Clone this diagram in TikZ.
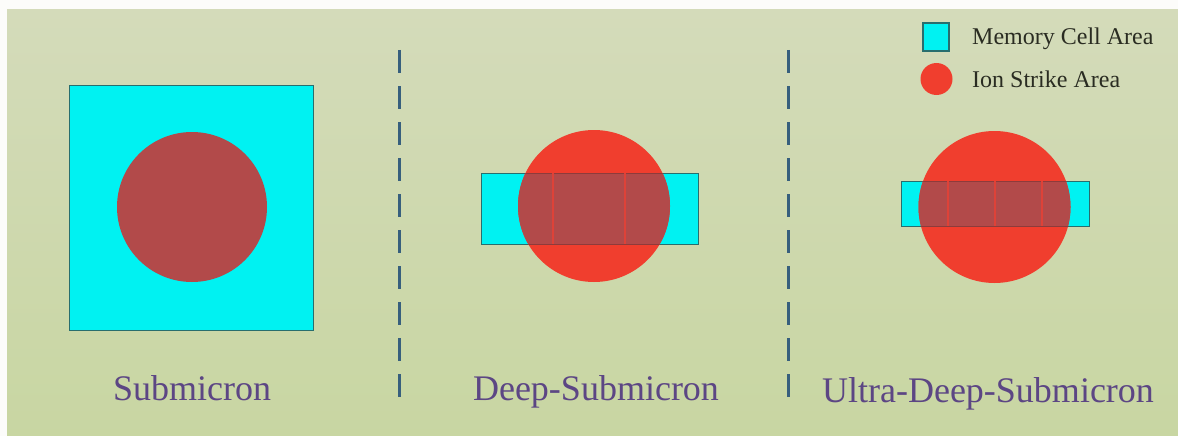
\documentclass[tikz,border=0pt]{standalone}
\usepackage{fontspec}
\setmainfont{Liberation Serif}
\definecolor{bgtop}{RGB}{212,219,186}
\definecolor{bgbot}{RGB}{200,214,162}
\definecolor{cellcyan}{RGB}{0,242,242}
\definecolor{ionred}{RGB}{240,62,46}
\definecolor{overlap}{RGB}{178,74,74}
\definecolor{divline}{RGB}{222,66,56}
\definecolor{cellborder}{RGB}{40,110,110}
\definecolor{sepcol}{RGB}{55,95,125}
\definecolor{labcol}{RGB}{92,70,132}
\definecolor{legcol}{RGB}{42,44,34}
\tikzset{
  cellbox/.style={fill=cellcyan, draw=cellborder, line width=0.8pt},
  ionarea/.style={fill=ionred},
  sepline/.style={draw=sepcol, line width=3pt, dash pattern=on 23pt off 13pt},
  biglabel/.style={text=labcol, font=\fontsize{36}{40}\selectfont, anchor=base, inner sep=0pt},
  leglabel/.style={text=legcol, font=\fontsize{24}{28}\selectfont, anchor=base west, inner sep=0pt},
  divider/.style={draw=divline, line width=1.2pt}
}
\begin{document}
\begin{tikzpicture}[x=1pt,y=-1pt]
\useasboundingbox (0,0) rectangle (1178,436);
\fill[white!93!bgtop] (0,0) rectangle (1178,436);
\shade[top color=bgtop, bottom color=bgbot] (7,10) rectangle (1179,437);

% separators
\coordinate (s1a) at (399,50); \coordinate (s1b) at (399,397);
\coordinate (s2a) at (788,50); \coordinate (s2b) at (788,397);
\draw[sepline] (s1a) -- (s1b);
\draw[sepline] (s2a) -- (s2b);

% Submicron
\filldraw[cellbox] (69,85) rectangle (313,330);
\fill[overlap] (192,207) circle (75pt);
\node[biglabel] (l1) at (192,400) {Submicron};

% Deep-Submicron
\filldraw[cellbox] (481,173) rectangle (698,244);
\fill[ionred] (594,206) circle (76pt);
\begin{scope}
  \clip (594,206) circle (76pt);
  \fill[overlap] (481,173) rectangle (698,244);
  \draw[overlap!80!black, line width=0.8pt] (481,173) rectangle (698,244);
\end{scope}
\draw[divider] (553,173) -- (553,244);
\draw[divider] (625,173) -- (625,244);
\node[biglabel] (l2) at (596,400) {Deep-Submicron};

% Ultra-Deep-Submicron
\filldraw[cellbox] (901,181) rectangle (1089,226);
\fill[ionred] (994.5,207) circle (76pt);
\begin{scope}
  \clip (994.5,207) circle (76pt);
  \fill[overlap] (901,181) rectangle (1089,226);
  \draw[overlap!80!black, line width=0.8pt] (901,181) rectangle (1089,226);
\end{scope}
\draw[divider] (948,181) -- (948,226);
\draw[divider] (995,181) -- (995,226);
\draw[divider] (1042,181) -- (1042,226);
\node[biglabel] (l3) at (988,402) {Ultra-Deep-Submicron};

% Legend
\filldraw[cellbox, line width=1.2pt] (923,23) rectangle (949,51);
\fill[ionred] (936.5,79) circle (16pt);
\node[leglabel] (g1) at (972,45) {Memory Cell Area};
\node[leglabel] (g2) at (972,88) {Ion Strike Area};
\end{tikzpicture}
\end{document}
